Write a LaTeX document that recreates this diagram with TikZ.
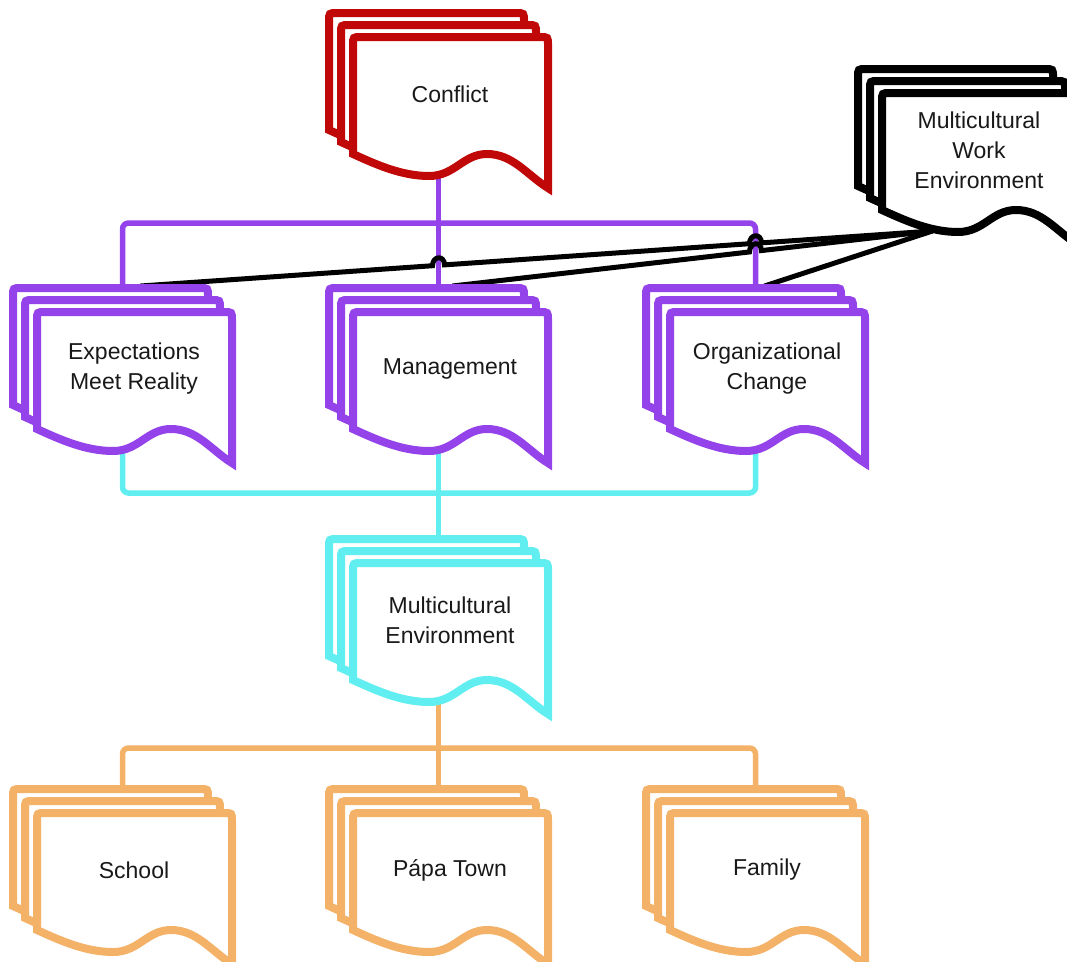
\documentclass[tikz,border=0pt]{standalone}
\usepackage{fontspec}
\setmainfont{Liberation Sans}
\usetikzlibrary{calc,backgrounds}

\definecolor{confred}{RGB}{192,8,8}
\definecolor{mgmtpurple}{RGB}{148,66,234}
\definecolor{envcyan}{RGB}{96,238,240}
\definecolor{homeorange}{RGB}{244,178,104}

% three stacked pages with a wavy bottom
\tikzset{
  pics/docstack/.style={code={
    \foreach \off in {-24,-12,0}{
      \draw[pic actions, fill=white, line width=8pt, shift={(\off,\off)}]
        (0,117) -- (0,8) .. controls (0,0) .. (8,0) -- (187,0) .. controls (195,0) .. (195,8)
        -- (195,151) .. controls (174,138) and (160,117) .. (134,117)
        .. controls (110,117) and (102,139) .. (76,139)
        .. controls (48,139) and (22,127) .. (0,117) -- cycle;
    }
    \node[doctext] (-text) at (97,57) {#1};
    \coordinate (-top) at (85.5,-24);
    \coordinate (-bot) at (85.5,130);
  }}
}

\begin{document}
\begin{tikzpicture}[x=1pt, y=-1pt,
  doctext/.style={font=\fontsize{23}{30}\selectfont, align=center, text=black!90},
  purpline/.style={draw=mgmtpurple, line width=5.5pt, rounded corners=6pt},
  cyanline/.style={draw=envcyan, line width=5.5pt, rounded corners=6pt},
  orangeline/.style={draw=homeorange, line width=5.5pt, rounded corners=6pt},
  workline/.style={draw=black, line width=5pt}
]
\useasboundingbox (0,0) rectangle (1067,961);

\pic[draw=confred] (conflict) at (353,37) {docstack={Conflict}};
\pic[draw=black] (mwe) at (882,93) {docstack={Multicultural\\Work\\Environment}};
\pic[draw=mgmtpurple] (expect) at (37,312) {docstack={Expectations\\Meet Reality}};
\pic[draw=mgmtpurple] (mgmt) at (353,312) {docstack={Management}};
\pic[draw=mgmtpurple] (orgchg) at (670,312) {docstack={Organizational\\Change}};
\pic[draw=envcyan] (menv) at (353,563) {docstack={Multicultural\\Environment}};
\pic[draw=homeorange] (school) at (37,813) {docstack={School}};
\pic[draw=homeorange] (papa) at (353,813) {docstack={Pápa Town}};
\pic[draw=homeorange] (family) at (670,813) {docstack={Family}};

\coordinate (pbus) at (0,223);
\coordinate (cbus) at (0,493);
\coordinate (obus) at (0,748);
\coordinate (orgbus) at (orgchg-top |- pbus);

% links to the work environment
\coordinate (w) at ($(mwe-bot)+(-35,8)$);
\coordinate (e1) at ($(expect-top)+(18,-2)$);
\coordinate (m1) at ($(mgmt-top)+(14,-2)$);
\coordinate (o1) at ($(orgchg-top)+(9,-2)$);
\coordinate (j1) at (intersection of e1--w and mgmt-top--conflict-bot);
\coordinate (j2) at (intersection of e1--w and orgchg-top--orgbus);
\coordinate (j3) at (intersection of m1--w and orgchg-top--orgbus);

\begin{scope}[on background layer]
  \draw[purpline] (expect-top) |- (mgmt-top |- pbus) -| (orgchg-top);
  \draw[purpline] (conflict-bot) -- (mgmt-top);
  \draw[cyanline] (expect-bot) |- (mgmt-bot |- cbus) -| (orgchg-bot);
  \draw[cyanline] (mgmt-bot) -- (menv-top);
  \draw[orangeline] (school-top) |- (papa-top |- obus) -| (family-top);
  \draw[orangeline] (menv-bot) -- (papa-top);

  \draw[workline] (e1) -- ($(j1)!6pt!(e1)$) .. controls +(0,-10) and +(0,-10) .. ($(j1)!6pt!(w)$)
    -- ($(j2)!6pt!(e1)$) .. controls +(0,-10) and +(0,-10) .. ($(j2)!6pt!(w)$) -- (w);
  \draw[workline] (m1) -- ($(j3)!6pt!(m1)$) .. controls +(0,-10) and +(0,-10) .. ($(j3)!6pt!(w)$) -- (w);
  \draw[workline] (o1) -- (w);
\end{scope}
\end{tikzpicture}
\end{document}
